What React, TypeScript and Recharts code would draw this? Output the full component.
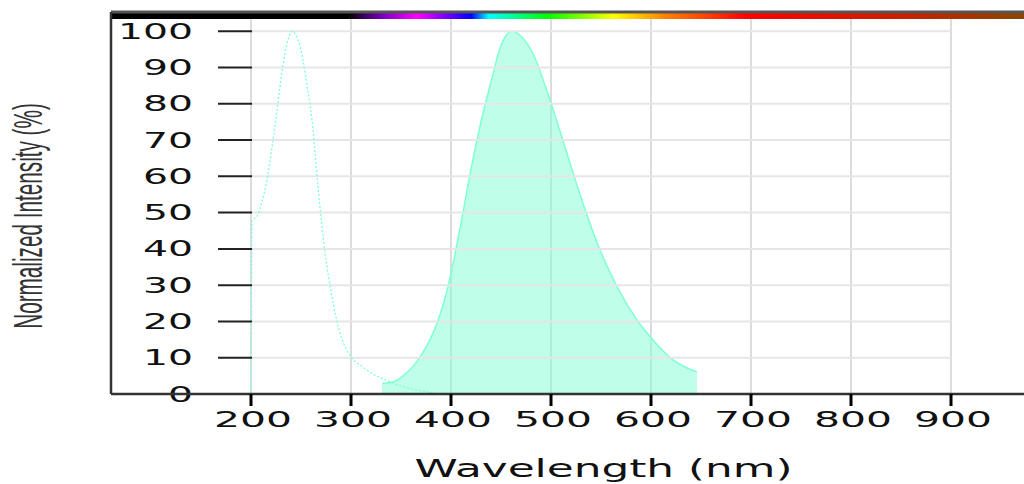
import React from "react";
import {
  ComposedChart,
  Area,
  Line,
  XAxis,
  YAxis,
  CartesianGrid,
  ReferenceLine,
  ReferenceArea,
} from "recharts";

// axis ticks
const xTicks = [200, 300, 400, 500, 600, 700, 800, 900];
const yTicks = [0, 10, 20, 30, 40, 50, 60, 70, 80, 90, 100];

// excitation spectrum (dotted line)
const excitationNm = [
  200, 201, 206, 211, 216, 221, 226, 230, 234, 238, 241, 246, 252, 256, 261,
  267, 274, 281, 289, 296, 301, 312, 322, 332, 346, 356, 370, 384,
];
const excitationVal = [
  0, 47.9, 49, 53, 59, 68, 78, 87, 94, 98.5, 100, 98.4, 92, 85, 75.5, 57, 39,
  26.8, 16.8, 12, 9.9, 7.4, 5.5, 4.2, 2.6, 1.7, 0.9, 0.3,
];

// emission spectrum (filled area)
const emissionNm = [
  331, 342, 352, 362, 370, 379, 388, 396, 404, 412, 420, 430, 440, 449, 455,
  461, 469, 482, 499, 516, 529, 549, 566, 586, 602, 622, 635, 646,
];
const emissionVal = [
  2.9, 3.3, 5.0, 7.6, 10.6, 15.0, 21.0, 28.5, 38.5, 50, 62, 75, 86, 95.3, 98.8,
  100, 98.9, 93.8, 81, 66.3, 55, 39.7, 29.6, 20.4, 14.9, 9.4, 7.3, 6.1,
];

const excitation = excitationNm.map((nm, i) => ({ nm, v: excitationVal[i] }));
const emission = emissionNm.map((nm, i) => ({ nm, v: emissionVal[i] }));

const FONT = "'DejaVu Sans', sans-serif";
const NARROW = "'Liberation Sans Narrow', 'Liberation Sans', sans-serif";
const AQUA = "#7fffd4";

// stretched tick labels for the x axis
const XTick = ({ x, y, payload }: any) => {
  const s = String(payload.value);
  const w = s.length * 26;
  return (
    <text
      x={x - w / 2 + 2}
      y={y}
      dy="0.72em"
      fontSize={21}
      fill="#111"
      fontFamily={FONT}
      textLength={w}
      lengthAdjust="spacingAndGlyphs"
    >
      {s}
    </text>
  );
};

// y tick labels hang off the left end of each tick segment
const yTickLabel = (v: number) => (props: any) => {
  const vb = props.viewBox || { x: 0, y: 0 };
  const s = String(v);
  const w = s.length * 25;
  return (
    <text
      x={vb.x - 25 - w}
      y={vb.y}
      dy="0.36em"
      fontSize={21}
      fill="#111"
      fontFamily={FONT}
      textLength={w}
      lengthAdjust="spacingAndGlyphs"
    >
      {s}
    </text>
  );
};

// tall, condensed axis title: squeeze with a scale instead of textLength only
const YLabel = () => (
  <g transform="translate(42, 216) rotate(-90) scale(0.6, 1)">
    <text
      x={-188}
      y={0}
      fontSize={40}
      fill="#333"
      fontFamily={NARROW}
      textLength={376}
      lengthAdjust="spacingAndGlyphs"
    >
      Normalized Intensity (%)
    </text>
  </g>
);

const XLabel = (props: any) => {
  const vb = props.viewBox || { x: 0, width: 0 };
  const cx = vb.x + vb.width / 2 - 2;
  return (
    <text
      x={cx - 189}
      y={477}
      fontSize={24}
      fill="#111"
      fontFamily={FONT}
      textLength={378}
      lengthAdjust="spacingAndGlyphs"
    >
      Wavelength (nm)
    </text>
  );
};

export default function App() {
  return (
    <div
      style={{
        position: "fixed",
        left: 0,
        top: 0,
        width: 1024,
        height: 484,
        overflow: "hidden",
        background: "#fff",
      }}
    >
      <ComposedChart
        width={1100}
        height={484}
        margin={{ top: 12, right: 0, left: 0, bottom: 0 }}
      >
        <defs>
          <linearGradient id="spectrum" x1="0" y1="0" x2="1" y2="0">
            <stop offset="0" stopColor="#000" />
            <stop offset="0.239" stopColor="#000" />
            <stop offset="0.275" stopColor="#7a00c0" />
            <stop offset="0.31" stopColor="#ff00ff" />
            <stop offset="0.364" stopColor="#0000ff" />
            <stop offset="0.382" stopColor="#00ffff" />
            <stop offset="0.442" stopColor="#00ff00" />
            <stop offset="0.508" stopColor="#ffff00" />
            <stop offset="0.561" stopColor="#ff8000" />
            <stop offset="0.644" stopColor="#ff0000" />
            <stop offset="0.8" stopColor="#c82000" />
            <stop offset="0.923" stopColor="#8b4500" />
            <stop offset="1" stopColor="#8b4500" />
          </linearGradient>
        </defs>
        <CartesianGrid
          horizontal={false}
          vertical
          stroke="#dcdcdc"
          strokeWidth={2}
        />
        {yTicks.map((t) => (
          <ReferenceLine
            key={"g" + t}
            segment={[
              { x: 200, y: t },
              { x: 900, y: t },
            ]}
            stroke="#e6e6e6"
            strokeWidth={2}
          />
        ))}
        <XAxis
          dataKey="nm"
          type="number"
          domain={[60, 1049]}
          ticks={xTicks}
          interval={0}
          allowDataOverflow
          height={90}
          axisLine={{ stroke: "#333", strokeWidth: 2.5 }}
          tickLine={{ stroke: "#000", strokeWidth: 3 }}
          tickSize={12}
          tickMargin={6}
          tick={<XTick />}
          label={{ content: XLabel }}
        />
        <YAxis
          type="number"
          domain={[0, 105.3]}
          ticks={yTicks}
          allowDataOverflow
          width={111}
          tick={false}
          tickLine={false}
          axisLine={{ stroke: "#333", strokeWidth: 2.5 }}
          label={{ content: YLabel }}
        />
        <Area
          data={emission}
          dataKey="v"
          type="monotone"
          stroke={AQUA}
          strokeWidth={1.5}
          fill={AQUA}
          fillOpacity={0.5}
          dot={false}
          activeDot={false}
          isAnimationActive={false}
        />
        <Line
          data={excitation}
          dataKey="v"
          type="monotone"
          stroke={AQUA}
          strokeWidth={1.3}
          strokeDasharray="2 2"
          dot={false}
          activeDot={false}
          isAnimationActive={false}
        />
        {yTicks.map((t) => (
          <ReferenceLine
            key={"t" + t}
            segment={[
              { x: 167, y: t },
              { x: 201, y: t },
            ]}
            stroke="#222"
            strokeWidth={2}
            label={{ content: yTickLabel(t) }}
          />
        ))}
        <ReferenceLine y={105.3} stroke="#555" strokeWidth={3} />
        <ReferenceArea
          x1={60}
          x2={1049}
          y1={103.4}
          y2={105.3}
          fill="url(#spectrum)"
          fillOpacity={1}
          stroke="none"
        />
      </ComposedChart>
    </div>
  );
}
